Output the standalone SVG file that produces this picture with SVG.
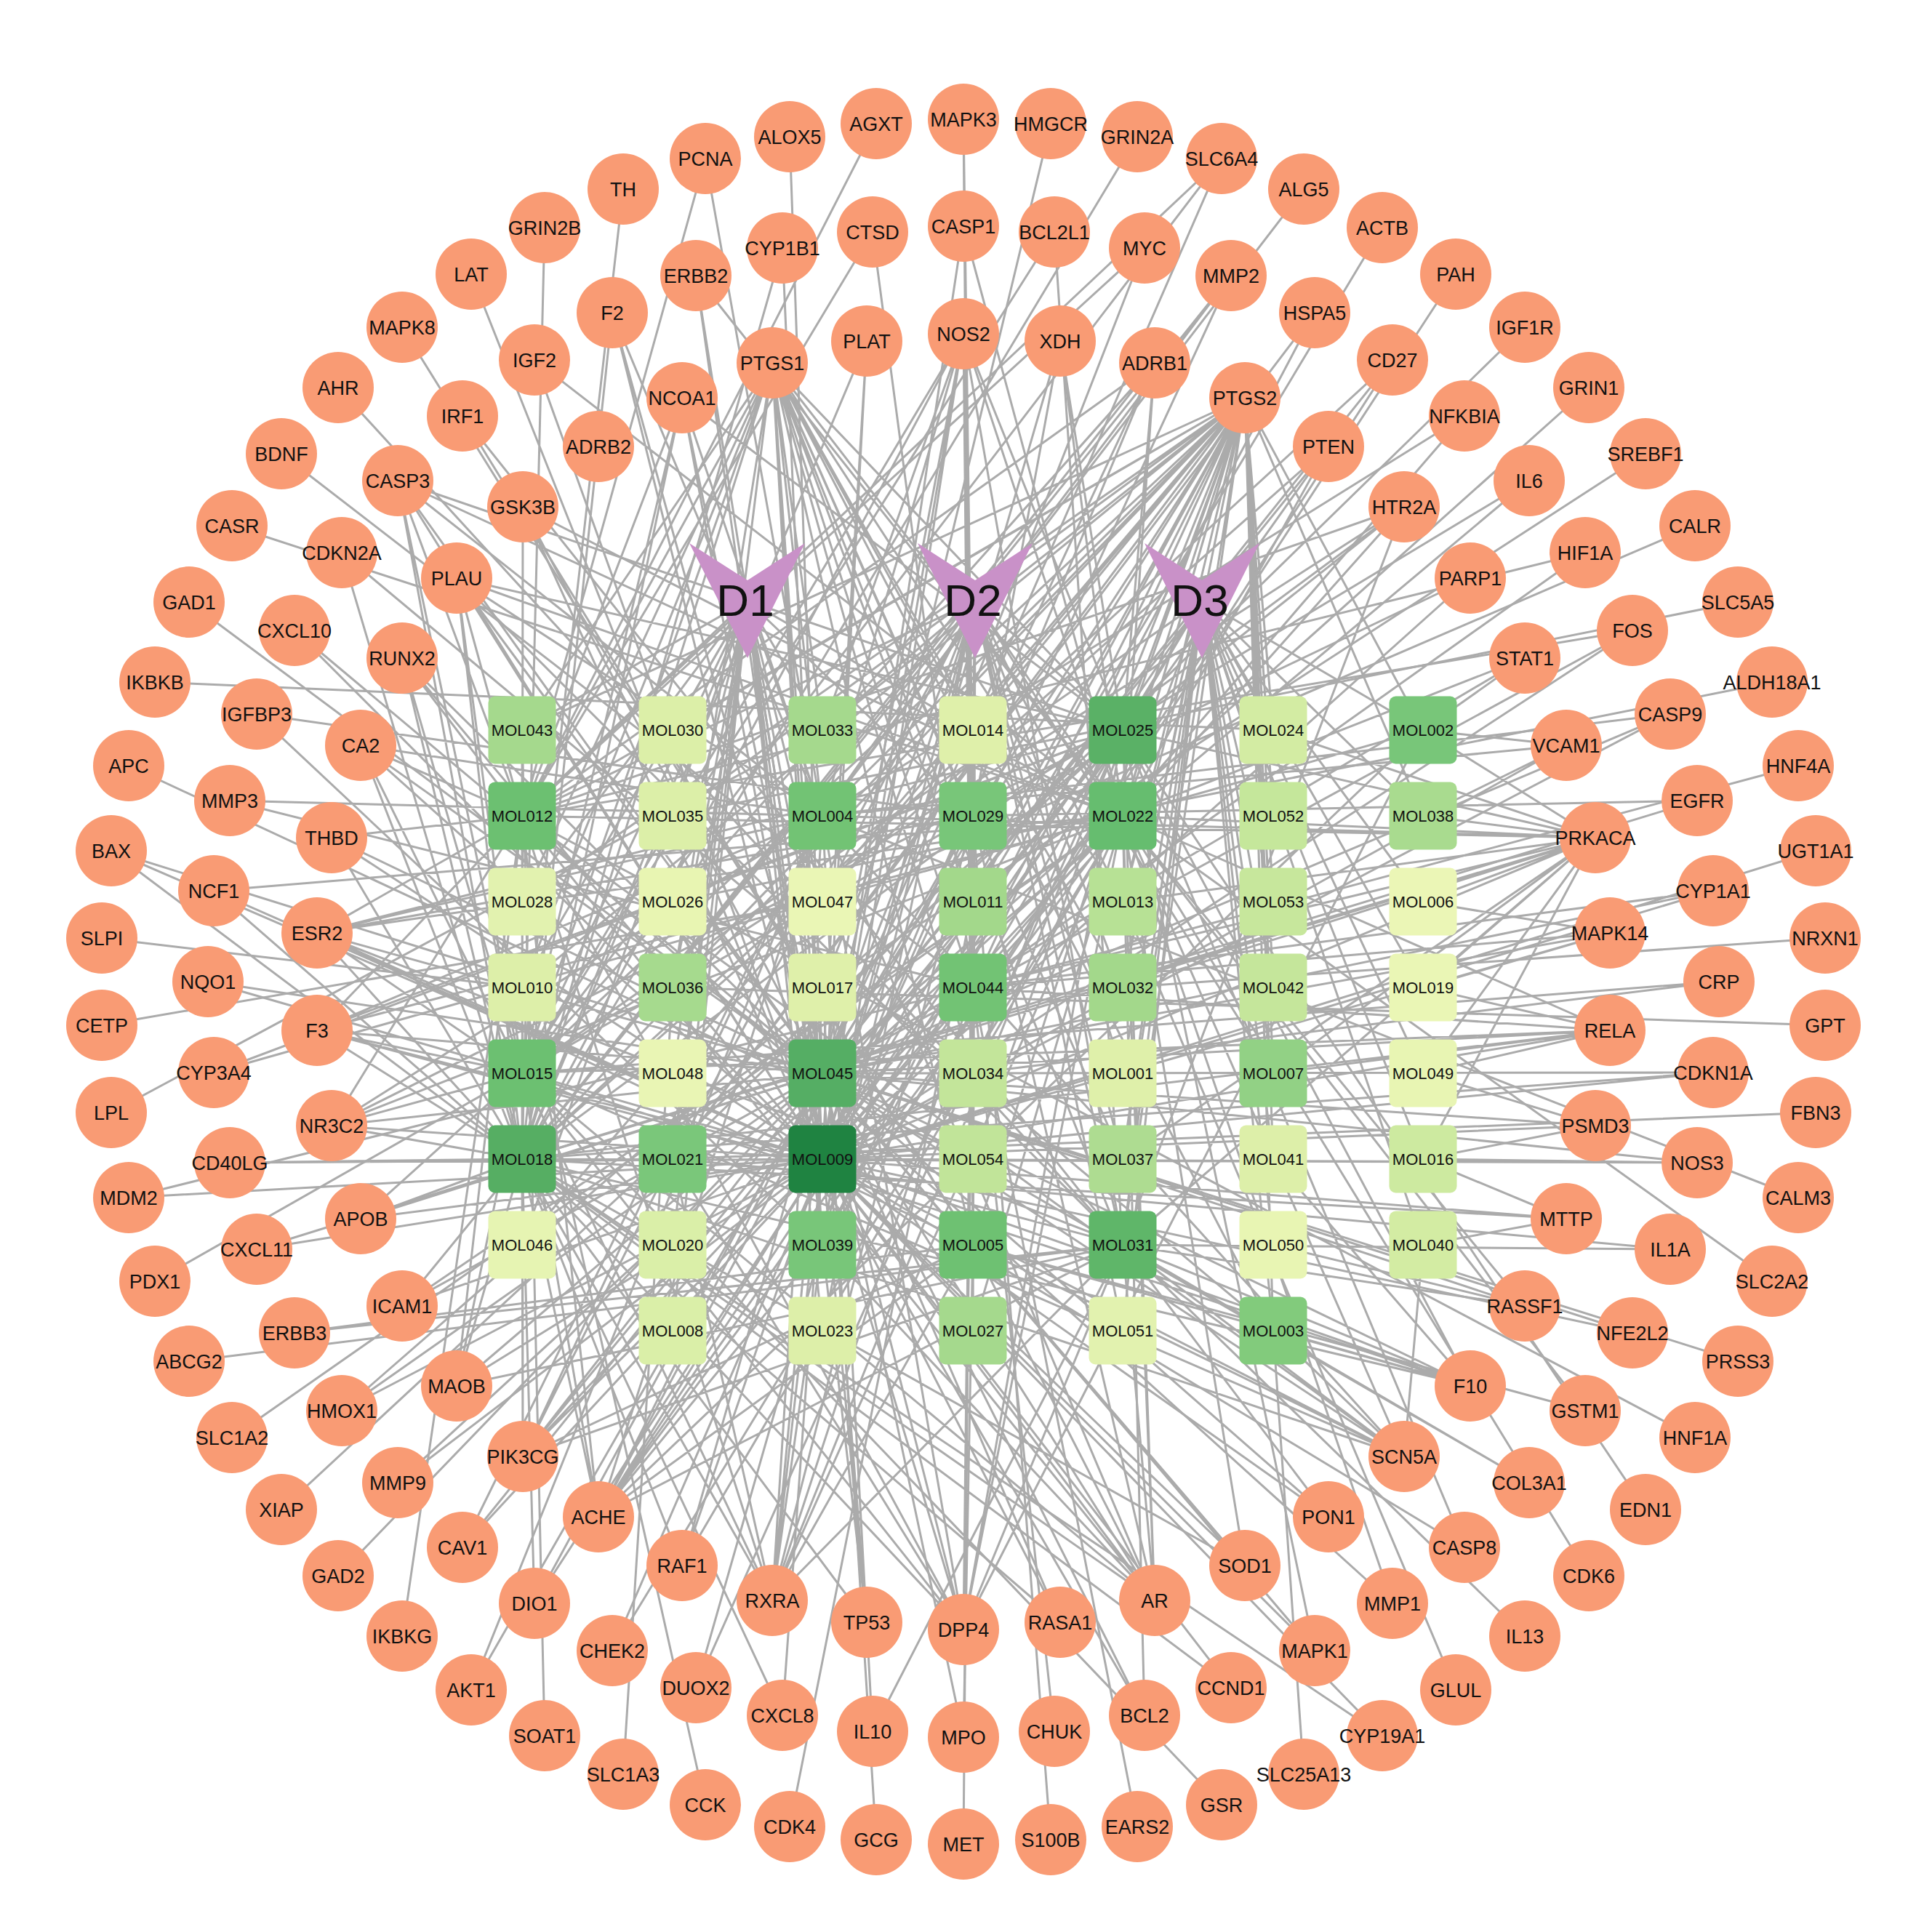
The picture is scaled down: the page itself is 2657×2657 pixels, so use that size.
<svg xmlns="http://www.w3.org/2000/svg" width="2657" height="2657" viewBox="0 0 2657 2657">
<style>
.e path{fill:none;stroke:#ABABAB;stroke-width:3;stroke-linejoin:round}
.t use{fill:#F99B74}
.t text{font-family:"Liberation Sans",Arial,sans-serif;font-size:27px;text-anchor:middle;fill:#111}
.m text{font-family:"Liberation Sans",Arial,sans-serif;font-size:22px;text-anchor:middle;fill:#111}
.d polygon{fill:#C991C8}
.d text{font-family:"Liberation Sans",Arial,sans-serif;font-size:62px;text-anchor:middle;fill:#111}
</style>
<defs>
<circle id="c" r="49" fill="#F99B74"/>
<rect id="s" x="-46.5" y="-46.5" width="93" height="93" rx="9"/>
</defs>
<rect width="2657" height="2657" fill="#fff"/>
<g id="edges" class="e">
<path d="M1028 826L718 1004 1028 826 925 1004 1028 826 1131 1004 1028 826 718 1122 1028 826 925 1122 1028 826 1131 1122 1028 826 718 1240 1028 826 925 1240 1028 826 1131 1240 1028 826 718 1358 1028 826 925 1358 1028 826 1131 1358 1028 826 718 1476 1028 826 925 1476 1028 826 1131 1476 1028 826 718 1594 1028 826 925 1594 1028 826 1131 1594 1028 826 718 1712 1028 826 925 1712 1028 826 1131 1712 1028 826 925 1830 1028 826 1131 1830 1028 826 1338 1004 1028 826 1338 1122"/>
<path d="M1341 826L1131 1004 1341 826 1338 1004 1341 826 1544 1004 1341 826 1131 1122 1341 826 1338 1122 1341 826 1544 1122 1341 826 1131 1240 1341 826 1338 1240 1341 826 1544 1240 1341 826 1131 1358 1341 826 1338 1358 1341 826 1544 1358 1341 826 1131 1476 1341 826 1338 1476 1341 826 1544 1476 1341 826 1131 1594 1341 826 1338 1594 1341 826 1544 1594 1341 826 1131 1712 1341 826 1338 1712 1341 826 1544 1712 1341 826 1131 1830 1341 826 1338 1830 1341 826 1544 1830 1341 826 718 1122 1341 826 925 1594 1341 826 718 1594 1341 826 1751 1476"/>
<path d="M1653 826L1544 1004 1653 826 1751 1004 1653 826 1957 1004 1653 826 1544 1122 1653 826 1751 1122 1653 826 1957 1122 1653 826 1544 1240 1653 826 1751 1240 1653 826 1957 1240 1653 826 1544 1358 1653 826 1751 1358 1653 826 1957 1358 1653 826 1544 1476 1653 826 1751 1476 1653 826 1957 1476 1653 826 1544 1594 1653 826 1751 1594 1653 826 1957 1594 1653 826 1544 1712 1653 826 1751 1712 1653 826 1957 1712 1653 826 1544 1830 1653 826 1751 1830 1653 826 1131 1594 1653 826 1338 1358 1653 826 718 1476"/>
<path d="M1325 459L1131 1004 1325 459 1131 1122 1325 459 1338 1122 1325 459 1338 1240 1325 459 1338 1358 1325 459 1131 1594 1325 459 1131 1476 1325 459 718 1594 1325 459 1544 1004 1325 459 1544 1122 1325 459 1131 1712 1325 459 1338 1712 1325 459 1544 1712 1325 459 718 1476
M1458 469L1131 1594 1458 469 1544 1122 1458 469 1544 1004 1458 469 1338 1122
M1588 499L718 1122 1588 499 718 1594 1588 499 1544 1004 1588 499 1544 1122 1588 499 1131 1594 1588 499 1131 1476 1588 499 718 1476
M1712 547L718 1004 1712 547 925 1004 1712 547 1131 1004 1712 547 1338 1004 1712 547 1544 1004 1712 547 1751 1004 1712 547 1957 1004 1712 547 718 1122 1712 547 925 1122 1712 547 1131 1122 1712 547 1338 1122 1712 547 1544 1122 1712 547 1751 1122 1712 547 1957 1122 1712 547 718 1240 1712 547 1131 1240 1712 547 1338 1240 1712 547 1544 1240 1712 547 1751 1240 1712 547 718 1358 1712 547 925 1358 1712 547 1338 1358 1712 547 1544 1358 1712 547 1751 1358 1712 547 718 1476 1712 547 1131 1476 1712 547 1338 1476 1712 547 1751 1476 1712 547 718 1594 1712 547 925 1594 1712 547 1131 1594 1712 547 1338 1594 1712 547 1544 1594 1712 547 1751 1594 1712 547 718 1712 1712 547 1131 1712 1712 547 1338 1712 1712 547 1544 1712 1712 547 1338 1830 1712 547 1751 1830
M1827 614L1131 1594 1827 614 1131 1476 1827 614 718 1594 1827 614 1544 1122
M1931 697L718 1594 1931 697 718 1476 1931 697 1131 1594 1931 697 1544 1004 1931 697 1544 1712 1931 697 718 1122
M2022 795L1131 1594 2022 795 1338 1122
M2097 905L1131 1476 2097 905 1544 1122 2097 905 1957 1004
M2154 1025L1131 1594 2154 1025 1131 1122 2154 1025 1957 1004 2154 1025 1957 1122
M2194 1152L1957 1004 2194 1152 1957 1122 2194 1152 1957 1240 2194 1152 1957 1358 2194 1152 1957 1476 2194 1152 1957 1594 2194 1152 1544 1004 2194 1152 1544 1122 2194 1152 1544 1240 2194 1152 1338 1358 2194 1152 1131 1476 2194 1152 1131 1594 2194 1152 718 1594 2194 1152 718 1122 2194 1152 1131 1122 2194 1152 1544 1712 2194 1152 1751 1476 2194 1152 1751 1004 2194 1152 1544 1358 2194 1152 1544 1594
M2214 1283L1131 1594 2214 1283 1131 1476 2214 1283 1338 1358 2214 1283 1957 1358 2214 1283 1957 1240
M2214 1417L1131 1594 2214 1417 1131 1476 2214 1417 718 1594 2214 1417 718 1476 2214 1417 1544 1122 2214 1417 1338 1358 2214 1417 1957 1476 2214 1417 1957 1358 2214 1417 1751 1476
M2194 1548L1131 1594 2194 1548 1131 1476 2194 1548 1957 1594 2194 1548 1957 1476
M2154 1676L1131 1594 2154 1676 718 1594 2154 1676 1957 1594 2154 1676 1957 1712
M2097 1796L1131 1476 2097 1796 1544 1122 2097 1796 1544 1712 2097 1796 1751 1712
M2022 1906L1131 1594 2022 1906 1131 1476 2022 1906 718 1594 2022 1906 1544 1712 2022 1906 718 1476 2022 1906 1338 1712 2022 1906 1751 1830 2022 1906 1751 1594 2022 1906 1544 1004
M1931 2003L1131 1594 1931 2003 1131 1476 1931 2003 718 1594 1931 2003 718 1122 1931 2003 1544 1712 1931 2003 1338 1712 1931 2003 1131 1122 1931 2003 1544 1122 1931 2003 718 1476 1931 2003 1751 1830 1931 2003 1957 1712
M1827 2086L1131 1594 1827 2086 1131 1476 1827 2086 1544 1712
M1712 2153L1131 1594 1712 2153 1131 1476 1712 2153 718 1594 1712 2153 1544 1122
M1588 2201L1131 1594 1588 2201 1131 1476 1588 2201 718 1594 1588 2201 718 1476 1588 2201 718 1122 1588 2201 1131 1122 1588 2201 1544 1004 1588 2201 1544 1122 1588 2201 1544 1712 1588 2201 1338 1712 1588 2201 1338 1122 1588 2201 1131 1712
M1458 2231L1131 1594 1458 2231 1131 1476 1458 2231 718 1594
M1325 2241L1131 1594 1325 2241 1131 1476 1325 2241 718 1594 1325 2241 718 1476 1325 2241 718 1122 1325 2241 1131 1122 1325 2241 1544 1004 1325 2241 1544 1122 1325 2241 1544 1712 1325 2241 925 1594 1325 2241 1338 1122 1325 2241 1957 1004 1325 2241 1338 1358
M1192 2231L1131 1594 1192 2231 1131 1476 1192 2231 718 1594 1192 2231 1131 1712
M1062 2201L1131 1594 1062 2201 1131 1476 1062 2201 718 1594 1062 2201 718 1476 1062 2201 718 1122 1062 2201 1131 1122 1062 2201 1544 1004 1062 2201 1544 1122 1062 2201 1544 1712 1062 2201 1338 1712 1062 2201 1338 1122 1062 2201 1131 1712 1062 2201 925 1594 1062 2201 1338 1358
M938 2153L1131 1594 938 2153 1131 1476 938 2153 718 1594 938 2153 1544 1122
M823 2086L1131 1594 823 2086 1131 1476 823 2086 718 1594 823 2086 718 1476 823 2086 718 1122 823 2086 1131 1122 823 2086 1544 1004 823 2086 1544 1122 823 2086 1544 1712 823 2086 1338 1712 823 2086 1338 1122 823 2086 1131 1712 823 2086 1338 1358 823 2086 1957 1004
M719 2003L1131 1594 719 2003 1131 1476 719 2003 718 1594 719 2003 718 1476 719 2003 718 1122 719 2003 1131 1122 719 2003 1544 1004 719 2003 1544 1122 719 2003 1544 1712 719 2003 1338 1712 719 2003 925 1594 719 2003 718 1004
M628 1906L1131 1594 628 1906 1131 1476 628 1906 718 1594 628 1906 718 1476 628 1906 718 1122 628 1906 1544 1712
M553 1796L1131 1594 553 1796 1131 1476 553 1796 718 1594 553 1796 1544 1122
M496 1676L1131 1594 496 1676 718 1594 496 1676 718 1476 496 1676 1131 1476
M456 1548L1131 1594 456 1548 1131 1476 456 1548 718 1594 456 1548 718 1476 456 1548 718 1122 456 1548 1131 1122 456 1548 1544 1004 456 1548 1544 1122
M436 1417L1131 1594 436 1417 1131 1476 436 1417 718 1594 436 1417 718 1476 436 1417 718 1122 436 1417 1131 1122 436 1417 1544 1004 436 1417 1544 1122 436 1417 1544 1712
M436 1283L1131 1594 436 1283 1131 1476 436 1283 718 1594 436 1283 718 1476 436 1283 718 1122 436 1283 1131 1122 436 1283 1544 1004 436 1283 1544 1122 436 1283 1544 1712 436 1283 1338 1712 436 1283 1338 1122
M456 1152L1131 1594 456 1152 1131 1476 456 1152 718 1594 456 1152 718 1122
M496 1025L1131 1594 496 1025 1131 1476 496 1025 718 1594 496 1025 718 1122 496 1025 718 1476 496 1025 1131 1122
M553 905L1131 1594 553 905 1131 1476 553 905 718 1594 553 905 718 1476 553 905 718 1122
M628 795L1131 1594 628 795 1131 1476 628 795 718 1594 628 795 718 1476 628 795 718 1122 628 795 1131 1122 628 795 1544 1004 628 795 1544 1122 628 795 1544 1712
M719 697L1131 1594 719 697 1131 1476 719 697 718 1594 719 697 1544 1122
M938 547L1131 1594 938 547 1131 1476 938 547 718 1594 938 547 718 1476 938 547 718 1122 938 547 1131 1122 938 547 1544 1004
M1062 499L718 1004 1062 499 1131 1004 1062 499 1338 1004 1062 499 1544 1004 1062 499 718 1122 1062 499 1131 1122 1062 499 1338 1122 1062 499 1544 1122 1062 499 718 1240 1062 499 1338 1240 1062 499 1544 1240 1062 499 718 1358 1062 499 925 1358 1062 499 1338 1358 1062 499 1544 1358 1062 499 718 1476 1062 499 1131 1476 1062 499 1338 1476 1062 499 718 1594 1062 499 925 1594 1062 499 1131 1594 1062 499 1544 1594 1062 499 1131 1712 1062 499 1338 1712 1062 499 1544 1712 1062 499 1751 1830
M1192 469L1131 1594 1192 469 1131 1476 1192 469 718 1594"/>
<path d="M1325 311L1131 1594 1325 311 1544 1122
M1450 319L1544 1712 1450 319 718 1476
M1574 341L1131 1476 1574 341 718 1122
M1693 379L1131 1594 1693 379 718 1594 1693 379 1131 1122
M1808 430L925 1594 1808 430 1131 1712
M1915 495L1131 1476 1915 495 1131 1712 1915 495 718 1594
M2014 572L1131 1594 2014 572 1131 1122
M2103 661L1131 1476 2103 661 1338 1122
M2180 760L1338 1358 2180 760 718 1122
M2245 867L1131 1594 2245 867 1131 1476 2245 867 718 1122
M2297 982L1131 1594 2297 982 1131 1476 2297 982 1131 1122
M2334 1101L718 1594 2334 1101 1338 1122
M2356 1225L1131 1594 2356 1225 1131 1476 2356 1225 1338 1358
M2364 1350L1338 1476 2364 1350 718 1476
M2356 1475L1131 1594 2356 1475 1131 1476 2356 1475 718 1594
M2334 1599L1131 1594 2334 1599 1131 1476 2334 1599 718 1594 2334 1599 1957 1594
M2297 1718L1544 1712 2297 1718 925 1594
M2245 1833L1131 1594 2245 1833 1131 1476
M2180 1940L1544 1122 2180 1940 1338 1712
M2103 2039L1131 1476 2103 2039 1544 1712
M2014 2128L1131 1594 2014 2128 1544 1004
M1915 2205L1544 1122 1915 2205 718 1122
M1808 2270L1131 1594 1808 2270 1131 1476 1808 2270 1544 1004
M1693 2321L1131 1594 1693 2321 718 1594
M1574 2359L1131 1594 1574 2359 1131 1476 1574 2359 1544 1122
M1450 2381L1338 1358
M1325 2389L1131 1476 1325 2389 1338 1712
M1200 2381L1544 1712 1200 2381 1131 1122
M1076 2359L1131 1594 1076 2359 718 1594
M957 2321L1544 1004 957 2321 1131 1712
M842 2270L1544 1122 842 2270 1338 1122
M735 2205L1131 1594 735 2205 1131 1476 735 2205 718 1594
M636 2128L1131 1594 636 2128 1544 1004 636 2128 1131 1122
M547 2039L1131 1594 547 2039 1544 1122
M470 1940L1131 1594 470 1940 1131 1476 470 1940 1544 1004
M405 1833L1544 1712 405 1833 1338 1712
M353 1718L1131 1594 353 1718 1131 1476
M316 1599L1131 1594 316 1599 718 1594 316 1599 925 1594
M294 1475L1544 1004 294 1475 1957 1004
M286 1350L1131 1594 286 1350 1131 1476
M294 1225L1131 1594 294 1225 718 1594 294 1225 1544 1122
M316 1101L1131 1122 316 1101 1338 1358
M353 982L1131 1712 353 982 1338 1122
M405 867L1131 1594 405 867 1131 1476
M470 760L718 1594 470 760 1751 1830
M547 661L1131 1594 547 661 1131 1476 547 661 718 1594 547 661 718 1476 547 661 718 1122 547 661 1131 1122 547 661 1544 1122 547 661 1544 1004
M636 572L1544 1712 636 572 1338 1712
M735 495L1131 1594 735 495 1544 1122
M842 430L1131 1594 842 430 1131 1476 842 430 718 1594 842 430 1131 1122
M957 379L1131 1594 957 379 1131 1476 957 379 1544 1122
M1076 341L1131 1594 1076 341 718 1594
M1200 319L718 1122 1200 319 1338 1358"/>
<path d="M1325 164L1338 1122 1325 164 1338 1712
M1445 170L1131 1476
M1564 188L718 1594
M1680 218L718 1122 1680 218 718 1476 1680 218 1131 1476
M1793 260L1131 1122
M1901 313L1131 1594
M2002 377L1131 1712
M2097 450L925 1594
M2185 533L1131 1476
M2263 624L1131 1358
M2331 723L1131 1240
M2390 828L925 1122
M2437 938L925 1240
M2473 1053L1338 1358
M2497 1170L1131 1594
M2510 1290L1544 1358
M2510 1410L925 1358
M2497 1530L925 1594
M2473 1647L1131 1122
M2437 1762L1544 1122
M2390 1872L1131 1476
M2331 1977L718 1122
M2263 2076L1544 1004
M2185 2167L1544 1122
M2097 2250L1544 1712
M2002 2324L1544 1240
M1901 2387L1131 1594 1901 2387 718 1594
M1793 2440L1751 1830
M1680 2482L718 1476
M1564 2512L1338 1358
M1445 2530L1338 1122
M1325 2536L1338 1004
M1205 2530L1131 1358
M1086 2512L1338 1240
M970 2482L718 1358
M857 2440L925 1358
M749 2387L718 1004
M648 2324L1131 1122 648 2324 1338 1122
M553 2250L718 1122
M465 2167L1131 1476
M387 2076L1544 1004
M319 1977L1544 1122
M260 1872L1544 1712
M213 1762L1338 1122
M177 1647L1131 1594 177 1647 1338 1358
M153 1530L1131 1004
M140 1410L1131 1240
M140 1290L718 1358
M153 1170L1131 1594 153 1170 1131 1476 153 1170 718 1594
M177 1053L1338 1594
M213 938L1751 1004
M260 828L1131 1476
M319 723L1544 1122
M387 624L1338 1358
M465 533L1544 1712
M553 450L1338 1712
M648 377L1131 1594
M749 313L718 1594
M857 260L718 1476
M970 218L1131 1122 970 218 718 1122
M1086 188L1131 1476
M1205 170L718 1122"/>
</g>
<g id="herbs" class="d">
<g id="n-D1"><polygon points="948,747 1028,798 1107,747 1028,905"/><text x="1025" y="847">D1</text></g>
<g id="n-D2"><polygon points="1262,747 1341,798 1420,747 1341,905"/><text x="1338" y="847">D2</text></g>
<g id="n-D3"><polygon points="1574,747 1653,798 1732,747 1653,905"/><text x="1650" y="847">D3</text></g>
</g>
<g id="compounds" class="m">
<g id="n-MOL043" transform="translate(718 1004)"><use href="#s" fill="#A5D98D"/><text y="8">MOL043</text></g>
<g id="n-MOL030" transform="translate(925 1004)"><use href="#s" fill="#DCEFA8"/><text y="8">MOL030</text></g>
<g id="n-MOL033" transform="translate(1131 1004)"><use href="#s" fill="#A5D98D"/><text y="8">MOL033</text></g>
<g id="n-MOL014" transform="translate(1338 1004)"><use href="#s" fill="#DFF0AA"/><text y="8">MOL014</text></g>
<g id="n-MOL025" transform="translate(1544 1004)"><use href="#s" fill="#5AB166"/><text y="8">MOL025</text></g>
<g id="n-MOL024" transform="translate(1751 1004)"><use href="#s" fill="#D3ECA3"/><text y="8">MOL024</text></g>
<g id="n-MOL002" transform="translate(1957 1004)"><use href="#s" fill="#78C679"/><text y="8">MOL002</text></g>
<g id="n-MOL012" transform="translate(718 1122)"><use href="#s" fill="#6CC071"/><text y="8">MOL012</text></g>
<g id="n-MOL035" transform="translate(925 1122)"><use href="#s" fill="#DCEFA8"/><text y="8">MOL035</text></g>
<g id="n-MOL004" transform="translate(1131 1122)"><use href="#s" fill="#72C374"/><text y="8">MOL004</text></g>
<g id="n-MOL029" transform="translate(1338 1122)"><use href="#s" fill="#78C679"/><text y="8">MOL029</text></g>
<g id="n-MOL022" transform="translate(1544 1122)"><use href="#s" fill="#66BD6F"/><text y="8">MOL022</text></g>
<g id="n-MOL052" transform="translate(1751 1122)"><use href="#s" fill="#C5E79B"/><text y="8">MOL052</text></g>
<g id="n-MOL038" transform="translate(1957 1122)"><use href="#s" fill="#A9DB8F"/><text y="8">MOL038</text></g>
<g id="n-MOL028" transform="translate(718 1240)"><use href="#s" fill="#E2F2AF"/><text y="8">MOL028</text></g>
<g id="n-MOL026" transform="translate(925 1240)"><use href="#s" fill="#E8F5B2"/><text y="8">MOL026</text></g>
<g id="n-MOL047" transform="translate(1131 1240)"><use href="#s" fill="#EAF6B5"/><text y="8">MOL047</text></g>
<g id="n-MOL011" transform="translate(1338 1240)"><use href="#s" fill="#A3D88B"/><text y="8">MOL011</text></g>
<g id="n-MOL013" transform="translate(1544 1240)"><use href="#s" fill="#B7E195"/><text y="8">MOL013</text></g>
<g id="n-MOL053" transform="translate(1751 1240)"><use href="#s" fill="#C7E79C"/><text y="8">MOL053</text></g>
<g id="n-MOL006" transform="translate(1957 1240)"><use href="#s" fill="#EBF6B6"/><text y="8">MOL006</text></g>
<g id="n-MOL010" transform="translate(718 1358)"><use href="#s" fill="#DDEFA9"/><text y="8">MOL010</text></g>
<g id="n-MOL036" transform="translate(925 1358)"><use href="#s" fill="#A6DA8E"/><text y="8">MOL036</text></g>
<g id="n-MOL017" transform="translate(1131 1358)"><use href="#s" fill="#DFF0AA"/><text y="8">MOL017</text></g>
<g id="n-MOL044" transform="translate(1338 1358)"><use href="#s" fill="#72C374"/><text y="8">MOL044</text></g>
<g id="n-MOL032" transform="translate(1544 1358)"><use href="#s" fill="#A3D88B"/><text y="8">MOL032</text></g>
<g id="n-MOL042" transform="translate(1751 1358)"><use href="#s" fill="#C5E69B"/><text y="8">MOL042</text></g>
<g id="n-MOL019" transform="translate(1957 1358)"><use href="#s" fill="#EAF6B5"/><text y="8">MOL019</text></g>
<g id="n-MOL015" transform="translate(718 1476)"><use href="#s" fill="#6CC071"/><text y="8">MOL015</text></g>
<g id="n-MOL048" transform="translate(925 1476)"><use href="#s" fill="#E9F5B4"/><text y="8">MOL048</text></g>
<g id="n-MOL045" transform="translate(1131 1476)"><use href="#s" fill="#55AE64"/><text y="8">MOL045</text></g>
<g id="n-MOL034" transform="translate(1338 1476)"><use href="#s" fill="#C3E59A"/><text y="8">MOL034</text></g>
<g id="n-MOL001" transform="translate(1544 1476)"><use href="#s" fill="#DFF0AA"/><text y="8">MOL001</text></g>
<g id="n-MOL007" transform="translate(1751 1476)"><use href="#s" fill="#92D185"/><text y="8">MOL007</text></g>
<g id="n-MOL049" transform="translate(1957 1476)"><use href="#s" fill="#E8F5B3"/><text y="8">MOL049</text></g>
<g id="n-MOL018" transform="translate(718 1594)"><use href="#s" fill="#56AE63"/><text y="8">MOL018</text></g>
<g id="n-MOL021" transform="translate(925 1594)"><use href="#s" fill="#7AC77A"/><text y="8">MOL021</text></g>
<g id="n-MOL009" transform="translate(1131 1594)"><use href="#s" fill="#1F8341"/><text y="8">MOL009</text></g>
<g id="n-MOL054" transform="translate(1338 1594)"><use href="#s" fill="#C1E499"/><text y="8">MOL054</text></g>
<g id="n-MOL037" transform="translate(1544 1594)"><use href="#s" fill="#AEDC91"/><text y="8">MOL037</text></g>
<g id="n-MOL041" transform="translate(1751 1594)"><use href="#s" fill="#DDEFA9"/><text y="8">MOL041</text></g>
<g id="n-MOL016" transform="translate(1957 1594)"><use href="#s" fill="#CDEAA0"/><text y="8">MOL016</text></g>
<g id="n-MOL046" transform="translate(718 1712)"><use href="#s" fill="#E6F4B2"/><text y="8">MOL046</text></g>
<g id="n-MOL020" transform="translate(925 1712)"><use href="#s" fill="#DAEFA8"/><text y="8">MOL020</text></g>
<g id="n-MOL039" transform="translate(1131 1712)"><use href="#s" fill="#78C679"/><text y="8">MOL039</text></g>
<g id="n-MOL005" transform="translate(1338 1712)"><use href="#s" fill="#6EC172"/><text y="8">MOL005</text></g>
<g id="n-MOL031" transform="translate(1544 1712)"><use href="#s" fill="#5FB669"/><text y="8">MOL031</text></g>
<g id="n-MOL050" transform="translate(1751 1712)"><use href="#s" fill="#E8F5B3"/><text y="8">MOL050</text></g>
<g id="n-MOL040" transform="translate(1957 1712)"><use href="#s" fill="#D3ECA3"/><text y="8">MOL040</text></g>
<g id="n-MOL008" transform="translate(925 1830)"><use href="#s" fill="#DAEFA8"/><text y="8">MOL008</text></g>
<g id="n-MOL023" transform="translate(1131 1830)"><use href="#s" fill="#DDEFA9"/><text y="8">MOL023</text></g>
<g id="n-MOL027" transform="translate(1338 1830)"><use href="#s" fill="#A5D98D"/><text y="8">MOL027</text></g>
<g id="n-MOL051" transform="translate(1544 1830)"><use href="#s" fill="#E2F2AF"/><text y="8">MOL051</text></g>
<g id="n-MOL003" transform="translate(1751 1830)"><use href="#s" fill="#82CB7C"/><text y="8">MOL003</text></g>
</g>
<g id="targets" class="t">
<g id="n-MAPK3" transform="translate(1325 164)"><use href="#c"/><text y="10">MAPK3</text></g>
<g id="n-HMGCR" transform="translate(1445 170)"><use href="#c"/><text y="10">HMGCR</text></g>
<g id="n-GRIN2A" transform="translate(1564 188)"><use href="#c"/><text y="10">GRIN2A</text></g>
<g id="n-SLC6A4" transform="translate(1680 218)"><use href="#c"/><text y="10">SLC6A4</text></g>
<g id="n-ALG5" transform="translate(1793 260)"><use href="#c"/><text y="10">ALG5</text></g>
<g id="n-ACTB" transform="translate(1901 313)"><use href="#c"/><text y="10">ACTB</text></g>
<g id="n-PAH" transform="translate(2002 377)"><use href="#c"/><text y="10">PAH</text></g>
<g id="n-IGF1R" transform="translate(2097 450)"><use href="#c"/><text y="10">IGF1R</text></g>
<g id="n-GRIN1" transform="translate(2185 533)"><use href="#c"/><text y="10">GRIN1</text></g>
<g id="n-SREBF1" transform="translate(2263 624)"><use href="#c"/><text y="10">SREBF1</text></g>
<g id="n-CALR" transform="translate(2331 723)"><use href="#c"/><text y="10">CALR</text></g>
<g id="n-SLC5A5" transform="translate(2390 828)"><use href="#c"/><text y="10">SLC5A5</text></g>
<g id="n-ALDH18A1" transform="translate(2437 938)"><use href="#c"/><text y="10">ALDH18A1</text></g>
<g id="n-HNF4A" transform="translate(2473 1053)"><use href="#c"/><text y="10">HNF4A</text></g>
<g id="n-UGT1A1" transform="translate(2497 1170)"><use href="#c"/><text y="10">UGT1A1</text></g>
<g id="n-NRXN1" transform="translate(2510 1290)"><use href="#c"/><text y="10">NRXN1</text></g>
<g id="n-GPT" transform="translate(2510 1410)"><use href="#c"/><text y="10">GPT</text></g>
<g id="n-FBN3" transform="translate(2497 1530)"><use href="#c"/><text y="10">FBN3</text></g>
<g id="n-CALM3" transform="translate(2473 1647)"><use href="#c"/><text y="10">CALM3</text></g>
<g id="n-SLC2A2" transform="translate(2437 1762)"><use href="#c"/><text y="10">SLC2A2</text></g>
<g id="n-PRSS3" transform="translate(2390 1872)"><use href="#c"/><text y="10">PRSS3</text></g>
<g id="n-HNF1A" transform="translate(2331 1977)"><use href="#c"/><text y="10">HNF1A</text></g>
<g id="n-EDN1" transform="translate(2263 2076)"><use href="#c"/><text y="10">EDN1</text></g>
<g id="n-CDK6" transform="translate(2185 2167)"><use href="#c"/><text y="10">CDK6</text></g>
<g id="n-IL13" transform="translate(2097 2250)"><use href="#c"/><text y="10">IL13</text></g>
<g id="n-GLUL" transform="translate(2002 2324)"><use href="#c"/><text y="10">GLUL</text></g>
<g id="n-CYP19A1" transform="translate(1901 2387)"><use href="#c"/><text y="10">CYP19A1</text></g>
<g id="n-SLC25A13" transform="translate(1793 2440)"><use href="#c"/><text y="10">SLC25A13</text></g>
<g id="n-GSR" transform="translate(1680 2482)"><use href="#c"/><text y="10">GSR</text></g>
<g id="n-EARS2" transform="translate(1564 2512)"><use href="#c"/><text y="10">EARS2</text></g>
<g id="n-S100B" transform="translate(1445 2530)"><use href="#c"/><text y="10">S100B</text></g>
<g id="n-MET" transform="translate(1325 2536)"><use href="#c"/><text y="10">MET</text></g>
<g id="n-GCG" transform="translate(1205 2530)"><use href="#c"/><text y="10">GCG</text></g>
<g id="n-CDK4" transform="translate(1086 2512)"><use href="#c"/><text y="10">CDK4</text></g>
<g id="n-CCK" transform="translate(970 2482)"><use href="#c"/><text y="10">CCK</text></g>
<g id="n-SLC1A3" transform="translate(857 2440)"><use href="#c"/><text y="10">SLC1A3</text></g>
<g id="n-SOAT1" transform="translate(749 2387)"><use href="#c"/><text y="10">SOAT1</text></g>
<g id="n-AKT1" transform="translate(648 2324)"><use href="#c"/><text y="10">AKT1</text></g>
<g id="n-IKBKG" transform="translate(553 2250)"><use href="#c"/><text y="10">IKBKG</text></g>
<g id="n-GAD2" transform="translate(465 2167)"><use href="#c"/><text y="10">GAD2</text></g>
<g id="n-XIAP" transform="translate(387 2076)"><use href="#c"/><text y="10">XIAP</text></g>
<g id="n-SLC1A2" transform="translate(319 1977)"><use href="#c"/><text y="10">SLC1A2</text></g>
<g id="n-ABCG2" transform="translate(260 1872)"><use href="#c"/><text y="10">ABCG2</text></g>
<g id="n-PDX1" transform="translate(213 1762)"><use href="#c"/><text y="10">PDX1</text></g>
<g id="n-MDM2" transform="translate(177 1647)"><use href="#c"/><text y="10">MDM2</text></g>
<g id="n-LPL" transform="translate(153 1530)"><use href="#c"/><text y="10">LPL</text></g>
<g id="n-CETP" transform="translate(140 1410)"><use href="#c"/><text y="10">CETP</text></g>
<g id="n-SLPI" transform="translate(140 1290)"><use href="#c"/><text y="10">SLPI</text></g>
<g id="n-BAX" transform="translate(153 1170)"><use href="#c"/><text y="10">BAX</text></g>
<g id="n-APC" transform="translate(177 1053)"><use href="#c"/><text y="10">APC</text></g>
<g id="n-IKBKB" transform="translate(213 938)"><use href="#c"/><text y="10">IKBKB</text></g>
<g id="n-GAD1" transform="translate(260 828)"><use href="#c"/><text y="10">GAD1</text></g>
<g id="n-CASR" transform="translate(319 723)"><use href="#c"/><text y="10">CASR</text></g>
<g id="n-BDNF" transform="translate(387 624)"><use href="#c"/><text y="10">BDNF</text></g>
<g id="n-AHR" transform="translate(465 533)"><use href="#c"/><text y="10">AHR</text></g>
<g id="n-MAPK8" transform="translate(553 450)"><use href="#c"/><text y="10">MAPK8</text></g>
<g id="n-LAT" transform="translate(648 377)"><use href="#c"/><text y="10">LAT</text></g>
<g id="n-GRIN2B" transform="translate(749 313)"><use href="#c"/><text y="10">GRIN2B</text></g>
<g id="n-TH" transform="translate(857 260)"><use href="#c"/><text y="10">TH</text></g>
<g id="n-PCNA" transform="translate(970 218)"><use href="#c"/><text y="10">PCNA</text></g>
<g id="n-ALOX5" transform="translate(1086 188)"><use href="#c"/><text y="10">ALOX5</text></g>
<g id="n-AGXT" transform="translate(1205 170)"><use href="#c"/><text y="10">AGXT</text></g>
<g id="n-CASP1" transform="translate(1325 311)"><use href="#c"/><text y="10">CASP1</text></g>
<g id="n-BCL2L1" transform="translate(1450 319)"><use href="#c"/><text y="10">BCL2L1</text></g>
<g id="n-MYC" transform="translate(1574 341)"><use href="#c"/><text y="10">MYC</text></g>
<g id="n-MMP2" transform="translate(1693 379)"><use href="#c"/><text y="10">MMP2</text></g>
<g id="n-HSPA5" transform="translate(1808 430)"><use href="#c"/><text y="10">HSPA5</text></g>
<g id="n-CD27" transform="translate(1915 495)"><use href="#c"/><text y="10">CD27</text></g>
<g id="n-NFKBIA" transform="translate(2014 572)"><use href="#c"/><text y="10">NFKBIA</text></g>
<g id="n-IL6" transform="translate(2103 661)"><use href="#c"/><text y="10">IL6</text></g>
<g id="n-HIF1A" transform="translate(2180 760)"><use href="#c"/><text y="10">HIF1A</text></g>
<g id="n-FOS" transform="translate(2245 867)"><use href="#c"/><text y="10">FOS</text></g>
<g id="n-CASP9" transform="translate(2297 982)"><use href="#c"/><text y="10">CASP9</text></g>
<g id="n-EGFR" transform="translate(2334 1101)"><use href="#c"/><text y="10">EGFR</text></g>
<g id="n-CYP1A1" transform="translate(2356 1225)"><use href="#c"/><text y="10">CYP1A1</text></g>
<g id="n-CRP" transform="translate(2364 1350)"><use href="#c"/><text y="10">CRP</text></g>
<g id="n-CDKN1A" transform="translate(2356 1475)"><use href="#c"/><text y="10">CDKN1A</text></g>
<g id="n-NOS3" transform="translate(2334 1599)"><use href="#c"/><text y="10">NOS3</text></g>
<g id="n-IL1A" transform="translate(2297 1718)"><use href="#c"/><text y="10">IL1A</text></g>
<g id="n-NFE2L2" transform="translate(2245 1833)"><use href="#c"/><text y="10">NFE2L2</text></g>
<g id="n-GSTM1" transform="translate(2180 1940)"><use href="#c"/><text y="10">GSTM1</text></g>
<g id="n-COL3A1" transform="translate(2103 2039)"><use href="#c"/><text y="10">COL3A1</text></g>
<g id="n-CASP8" transform="translate(2014 2128)"><use href="#c"/><text y="10">CASP8</text></g>
<g id="n-MMP1" transform="translate(1915 2205)"><use href="#c"/><text y="10">MMP1</text></g>
<g id="n-MAPK1" transform="translate(1808 2270)"><use href="#c"/><text y="10">MAPK1</text></g>
<g id="n-CCND1" transform="translate(1693 2321)"><use href="#c"/><text y="10">CCND1</text></g>
<g id="n-BCL2" transform="translate(1574 2359)"><use href="#c"/><text y="10">BCL2</text></g>
<g id="n-CHUK" transform="translate(1450 2381)"><use href="#c"/><text y="10">CHUK</text></g>
<g id="n-MPO" transform="translate(1325 2389)"><use href="#c"/><text y="10">MPO</text></g>
<g id="n-IL10" transform="translate(1200 2381)"><use href="#c"/><text y="10">IL10</text></g>
<g id="n-CXCL8" transform="translate(1076 2359)"><use href="#c"/><text y="10">CXCL8</text></g>
<g id="n-DUOX2" transform="translate(957 2321)"><use href="#c"/><text y="10">DUOX2</text></g>
<g id="n-CHEK2" transform="translate(842 2270)"><use href="#c"/><text y="10">CHEK2</text></g>
<g id="n-DIO1" transform="translate(735 2205)"><use href="#c"/><text y="10">DIO1</text></g>
<g id="n-CAV1" transform="translate(636 2128)"><use href="#c"/><text y="10">CAV1</text></g>
<g id="n-MMP9" transform="translate(547 2039)"><use href="#c"/><text y="10">MMP9</text></g>
<g id="n-HMOX1" transform="translate(470 1940)"><use href="#c"/><text y="10">HMOX1</text></g>
<g id="n-ERBB3" transform="translate(405 1833)"><use href="#c"/><text y="10">ERBB3</text></g>
<g id="n-CXCL11" transform="translate(353 1718)"><use href="#c"/><text y="10">CXCL11</text></g>
<g id="n-CD40LG" transform="translate(316 1599)"><use href="#c"/><text y="10">CD40LG</text></g>
<g id="n-CYP3A4" transform="translate(294 1475)"><use href="#c"/><text y="10">CYP3A4</text></g>
<g id="n-NQO1" transform="translate(286 1350)"><use href="#c"/><text y="10">NQO1</text></g>
<g id="n-NCF1" transform="translate(294 1225)"><use href="#c"/><text y="10">NCF1</text></g>
<g id="n-MMP3" transform="translate(316 1101)"><use href="#c"/><text y="10">MMP3</text></g>
<g id="n-IGFBP3" transform="translate(353 982)"><use href="#c"/><text y="10">IGFBP3</text></g>
<g id="n-CXCL10" transform="translate(405 867)"><use href="#c"/><text y="10">CXCL10</text></g>
<g id="n-CDKN2A" transform="translate(470 760)"><use href="#c"/><text y="10">CDKN2A</text></g>
<g id="n-CASP3" transform="translate(547 661)"><use href="#c"/><text y="10">CASP3</text></g>
<g id="n-IRF1" transform="translate(636 572)"><use href="#c"/><text y="10">IRF1</text></g>
<g id="n-IGF2" transform="translate(735 495)"><use href="#c"/><text y="10">IGF2</text></g>
<g id="n-F2" transform="translate(842 430)"><use href="#c"/><text y="10">F2</text></g>
<g id="n-ERBB2" transform="translate(957 379)"><use href="#c"/><text y="10">ERBB2</text></g>
<g id="n-CYP1B1" transform="translate(1076 341)"><use href="#c"/><text y="10">CYP1B1</text></g>
<g id="n-CTSD" transform="translate(1200 319)"><use href="#c"/><text y="10">CTSD</text></g>
<g id="n-NOS2" transform="translate(1325 459)"><use href="#c"/><text y="10">NOS2</text></g>
<g id="n-XDH" transform="translate(1458 469)"><use href="#c"/><text y="10">XDH</text></g>
<g id="n-ADRB1" transform="translate(1588 499)"><use href="#c"/><text y="10">ADRB1</text></g>
<g id="n-PTGS2" transform="translate(1712 547)"><use href="#c"/><text y="10">PTGS2</text></g>
<g id="n-PTEN" transform="translate(1827 614)"><use href="#c"/><text y="10">PTEN</text></g>
<g id="n-HTR2A" transform="translate(1931 697)"><use href="#c"/><text y="10">HTR2A</text></g>
<g id="n-PARP1" transform="translate(2022 795)"><use href="#c"/><text y="10">PARP1</text></g>
<g id="n-STAT1" transform="translate(2097 905)"><use href="#c"/><text y="10">STAT1</text></g>
<g id="n-VCAM1" transform="translate(2154 1025)"><use href="#c"/><text y="10">VCAM1</text></g>
<g id="n-PRKACA" transform="translate(2194 1152)"><use href="#c"/><text y="10">PRKACA</text></g>
<g id="n-MAPK14" transform="translate(2214 1283)"><use href="#c"/><text y="10">MAPK14</text></g>
<g id="n-RELA" transform="translate(2214 1417)"><use href="#c"/><text y="10">RELA</text></g>
<g id="n-PSMD3" transform="translate(2194 1548)"><use href="#c"/><text y="10">PSMD3</text></g>
<g id="n-MTTP" transform="translate(2154 1676)"><use href="#c"/><text y="10">MTTP</text></g>
<g id="n-RASSF1" transform="translate(2097 1796)"><use href="#c"/><text y="10">RASSF1</text></g>
<g id="n-F10" transform="translate(2022 1906)"><use href="#c"/><text y="10">F10</text></g>
<g id="n-SCN5A" transform="translate(1931 2003)"><use href="#c"/><text y="10">SCN5A</text></g>
<g id="n-PON1" transform="translate(1827 2086)"><use href="#c"/><text y="10">PON1</text></g>
<g id="n-SOD1" transform="translate(1712 2153)"><use href="#c"/><text y="10">SOD1</text></g>
<g id="n-AR" transform="translate(1588 2201)"><use href="#c"/><text y="10">AR</text></g>
<g id="n-RASA1" transform="translate(1458 2231)"><use href="#c"/><text y="10">RASA1</text></g>
<g id="n-DPP4" transform="translate(1325 2241)"><use href="#c"/><text y="10">DPP4</text></g>
<g id="n-TP53" transform="translate(1192 2231)"><use href="#c"/><text y="10">TP53</text></g>
<g id="n-RXRA" transform="translate(1062 2201)"><use href="#c"/><text y="10">RXRA</text></g>
<g id="n-RAF1" transform="translate(938 2153)"><use href="#c"/><text y="10">RAF1</text></g>
<g id="n-ACHE" transform="translate(823 2086)"><use href="#c"/><text y="10">ACHE</text></g>
<g id="n-PIK3CG" transform="translate(719 2003)"><use href="#c"/><text y="10">PIK3CG</text></g>
<g id="n-MAOB" transform="translate(628 1906)"><use href="#c"/><text y="10">MAOB</text></g>
<g id="n-ICAM1" transform="translate(553 1796)"><use href="#c"/><text y="10">ICAM1</text></g>
<g id="n-APOB" transform="translate(496 1676)"><use href="#c"/><text y="10">APOB</text></g>
<g id="n-NR3C2" transform="translate(456 1548)"><use href="#c"/><text y="10">NR3C2</text></g>
<g id="n-F3" transform="translate(436 1417)"><use href="#c"/><text y="10">F3</text></g>
<g id="n-ESR2" transform="translate(436 1283)"><use href="#c"/><text y="10">ESR2</text></g>
<g id="n-THBD" transform="translate(456 1152)"><use href="#c"/><text y="10">THBD</text></g>
<g id="n-CA2" transform="translate(496 1025)"><use href="#c"/><text y="10">CA2</text></g>
<g id="n-RUNX2" transform="translate(553 905)"><use href="#c"/><text y="10">RUNX2</text></g>
<g id="n-PLAU" transform="translate(628 795)"><use href="#c"/><text y="10">PLAU</text></g>
<g id="n-GSK3B" transform="translate(719 697)"><use href="#c"/><text y="10">GSK3B</text></g>
<g id="n-ADRB2" transform="translate(823 614)"><use href="#c"/><text y="10">ADRB2</text></g>
<g id="n-NCOA1" transform="translate(938 547)"><use href="#c"/><text y="10">NCOA1</text></g>
<g id="n-PTGS1" transform="translate(1062 499)"><use href="#c"/><text y="10">PTGS1</text></g>
<g id="n-PLAT" transform="translate(1192 469)"><use href="#c"/><text y="10">PLAT</text></g>
</g>
</svg>
